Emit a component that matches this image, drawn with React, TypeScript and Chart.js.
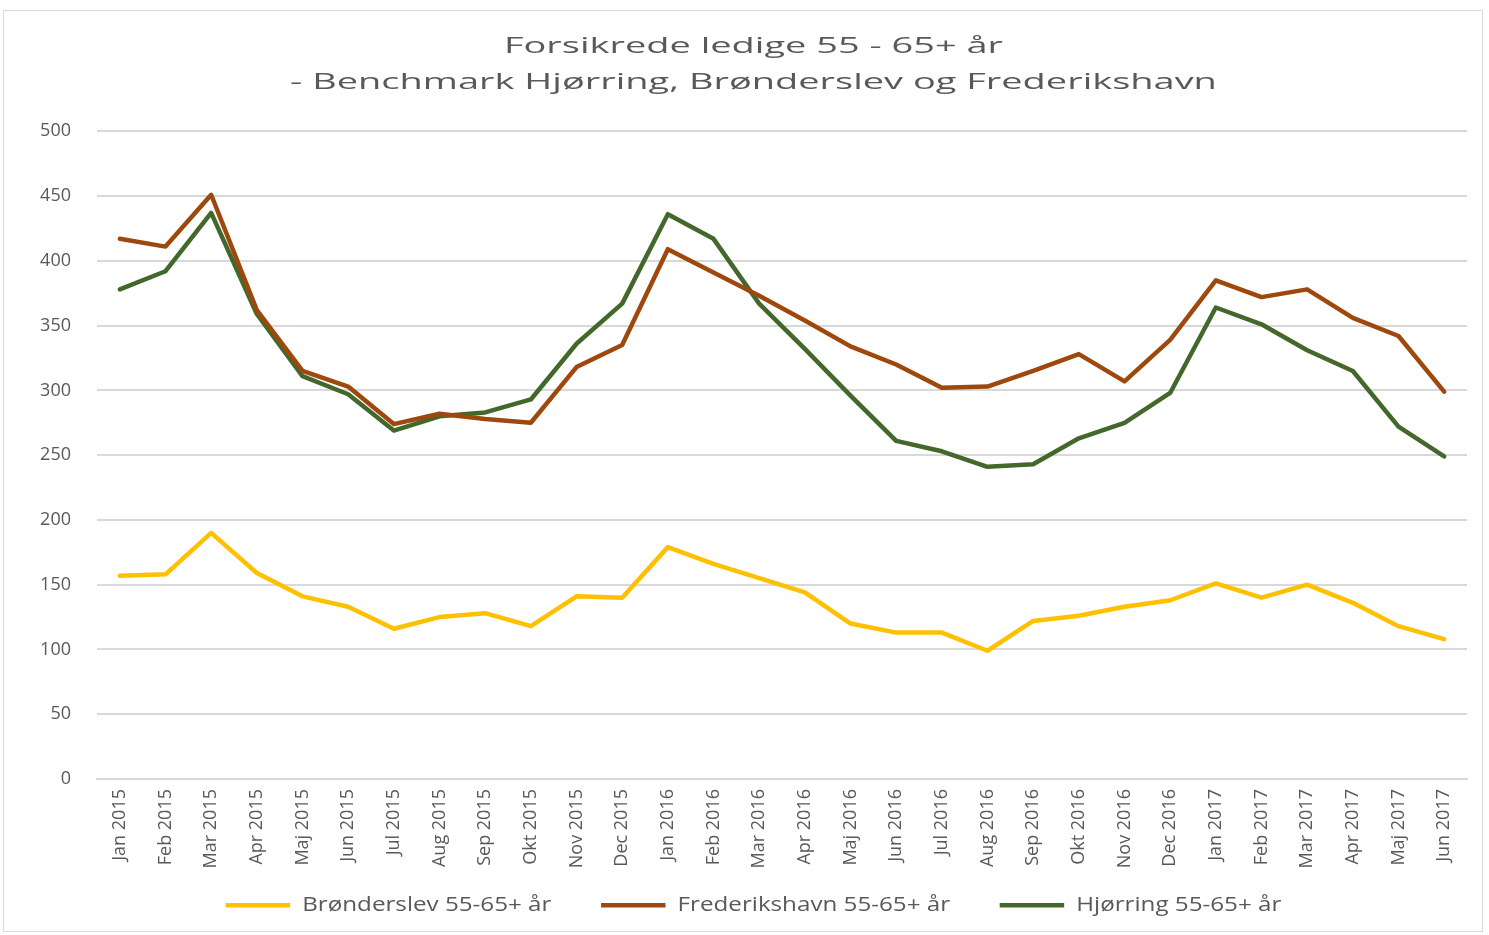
import React, { useEffect, useRef } from "react";
import { Chart, registerables } from "chart.js";

Chart.register(...registerables);

const months: string[] = [
  "Jan 2015", "Feb 2015", "Mar 2015", "Apr 2015", "Maj 2015", "Jun 2015",
  "Jul 2015", "Aug 2015", "Sep 2015", "Okt 2015", "Nov 2015", "Dec 2015",
  "Jan 2016", "Feb 2016", "Mar 2016", "Apr 2016", "Maj 2016", "Jun 2016",
  "Jul 2016", "Aug 2016", "Sep 2016", "Okt 2016", "Nov 2016", "Dec 2016",
  "Jan 2017", "Feb 2017", "Mar 2017", "Apr 2017", "Maj 2017", "Jun 2017",
];

const bronderslev: number[] = [
  157, 158, 190, 159, 141, 133, 116, 125, 128, 118, 141, 140,
  179, 166, 155, 144, 120, 113, 113, 99, 122, 126, 133, 138,
  151, 140, 150, 136, 118, 108,
];

const frederikshavn: number[] = [
  417, 411, 451, 362, 315, 303, 274, 282, 278, 275, 318, 335,
  409, 391, 373, 354, 334, 320, 302, 303, 315, 328, 307, 339,
  385, 372, 378, 356, 342, 299,
];

const hjorring: number[] = [
  378, 392, 437, 359, 311, 297, 269, 280, 283, 293, 336, 367,
  436, 417, 367, 332, 296, 261, 253, 241, 243, 263, 275, 298,
  364, 351, 331, 315, 272, 249,
];

const titleLines: string[] = [
  "Forsikrede ledige 55 - 65+ år",
  "- Benchmark Hjørring, Brønderslev og Frederikshavn",
];

const seriesNames: string[] = [
  "Brønderslev 55-65+ år",
  "Frederikshavn 55-65+ år",
  "Hjørring 55-65+ år",
];

const seriesColors: string[] = ["#FFC000", "#9E480E", "#43682B"];

const FONT = "'Open Sans', sans-serif";
const TEXT = "#595959";
const TITLE_STRETCH = 1.68;
const LEGEND_STRETCH = 1.24;

export default function App() {
  const canvasRef = useRef<HTMLCanvasElement | null>(null);

  useEffect(() => {
    if (!canvasRef.current) return;
    const values = [bronderslev, frederikshavn, hjorring];
    const chart: any = new Chart(canvasRef.current, {
      type: "line",
      data: {
        labels: months,
        datasets: values.map((v, i) => ({
          label: seriesNames[i],
          data: v,
          borderColor: seriesColors[i],
          backgroundColor: seriesColors[i],
          borderWidth: 4.5,
          pointRadius: 0,
          tension: 0,
          borderJoinStyle: "round" as const,
          borderCapStyle: "round" as const,
        })),
      },
      options: {
        animation: false,
        responsive: false,
        maintainAspectRatio: false,
        layout: { padding: { left: 40, right: 22, top: 0, bottom: 10 } },
        plugins: {
          tooltip: { enabled: false },
          title: {
            display: true,
            text: titleLines,
            color: TEXT,
            font: { family: FONT, size: 22.6, weight: "normal", lineHeight: 1.6 },
            padding: { top: 28, bottom: 31 },
          },
          legend: {
            position: "bottom",
            labels: {
              color: TEXT,
              font: { family: FONT, size: 19.5 },
              boxWidth: 52,
              boxHeight: 4.5,
              padding: 40,
              generateLabels: (c: any) =>
                Chart.defaults.plugins.legend.labels
                  .generateLabels(c)
                  .map((l: any) => ({ ...l, lineWidth: 0 })),
            },
          },
        },
        scales: {
          x: {
            offset: true,
            grid: { display: false, drawTicks: false },
            border: { display: true, color: "#d9d9d9", width: 2 },
            ticks: {
              color: TEXT,
              font: { family: FONT, size: 18 },
              minRotation: 90,
              maxRotation: 90,
              autoSkip: false,
              padding: 10,
            },
            afterFit: (scale: any) => {
              scale.height = 76.5;
            },
          },
          y: {
            min: 0,
            max: 500,
            grid: { color: "#d9d9d9", lineWidth: 2, drawTicks: false },
            border: { display: false },
            ticks: {
              stepSize: 50,
              color: TEXT,
              font: { family: FONT, size: 18 },
              padding: 26,
            },
            afterFit: (scale: any) => {
              scale.width = 57;
            },
          },
        },
      },
    });

    const stretch = (box: any, s: number) => {
      if (!box) return;
      const orig = box.draw.bind(box);
      box.draw = (...args: any[]) => {
        const ctx = chart.ctx as CanvasRenderingContext2D;
        const cx = (box.left + box.right) / 2;
        ctx.save();
        ctx.translate(cx, 0);
        ctx.scale(s, 1);
        ctx.translate(-cx, 0);
        orig(...args);
        ctx.restore();
      };
    };
    stretch(chart.titleBlock, TITLE_STRETCH);
    stretch(chart.legend, LEGEND_STRETCH);
    // let the rotated month labels extend below the (compact) axis box
    if (chart.scales && chart.scales.x) {
      chart.scales.x._computeLabelArea = () => undefined;
    }
    chart.draw();

    return () => chart.destroy();
  }, []);

  return (
    <div style={{ position: "absolute", left: 0, top: 0, width: 1489, height: 935, background: "#fff" }}>
      <div
        style={{
          position: "absolute",
          left: 3,
          top: 10,
          width: 1480,
          height: 922,
          border: "1px solid #d9d9d9",
          boxSizing: "border-box",
        }}
      />
      <canvas
        ref={canvasRef}
        width={1489}
        height={935}
        style={{ position: "absolute", left: 0, top: 0, width: 1489, height: 935 }}
      />
    </div>
  );
}
